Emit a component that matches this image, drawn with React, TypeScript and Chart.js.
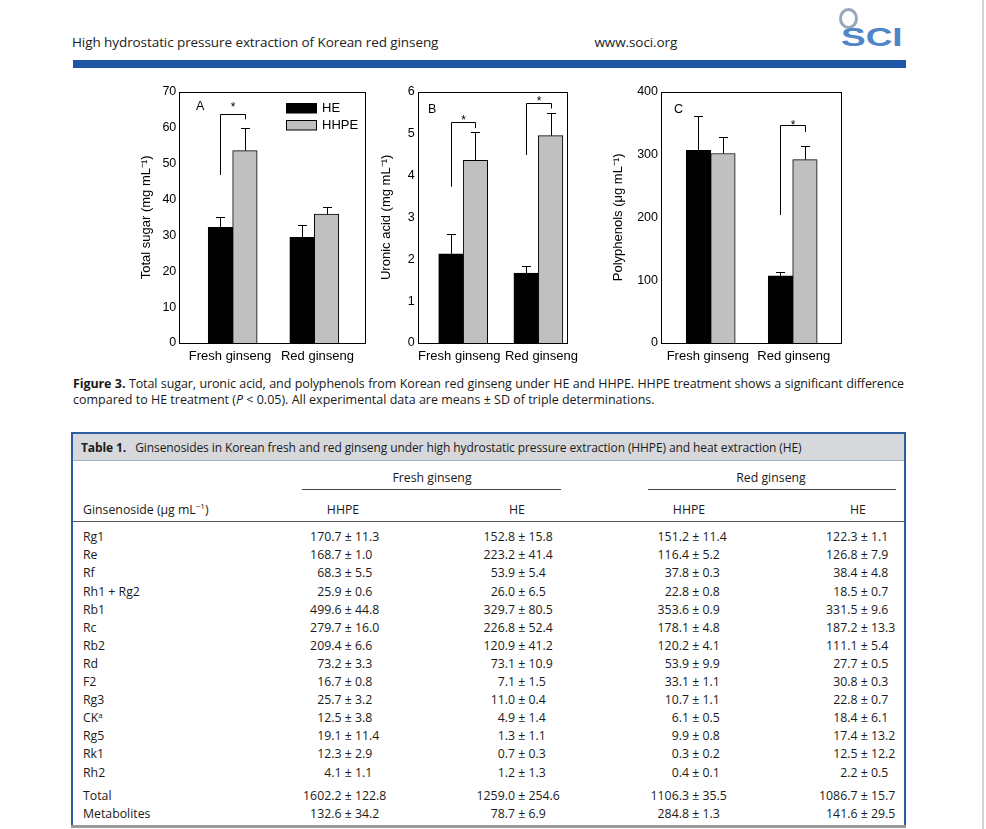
import React, { useEffect, useRef } from "react";
import { Chart, registerables } from "chart.js";

Chart.register(...registerables);

// ---------- Figure data ----------
const categories = ["Fresh ginseng", "Red ginseng"];
const seriesNames = ["HE", "HHPE"];

const sugarHE = [32.2, 29.4];
const sugarHESD = [2.8, 3.4];
const sugarHHPE = [53.6, 35.9];
const sugarHHPESD = [6.3, 1.9];

const uronicHE = [2.13, 1.67];
const uronicHESD = [0.47, 0.16];
const uronicHHPE = [4.36, 4.95];
const uronicHHPESD = [0.67, 0.55];

const polyHE = [306.8, 106.8];
const polyHESD = [54, 7];
const polyHHPE = [301.6, 292];
const polyHHPESD = [26, 22];

// significance brackets: category index, left leg bottom, top, right leg bottom, asterisk value
const sugarBrackets = [{ cat: 0, left: 46.8, top: 63.9, right: 62.3, star: 66.5 }];
const uronicBrackets = [
  { cat: 0, left: 3.73, top: 5.27, right: 5.13, star: 5.39 },
  { cat: 1, left: 4.49, top: 5.74, right: 5.6, star: 5.84 },
];
const polyBrackets = [{ cat: 1, left: 203.7, top: 346.5, right: 335.9, star: 351.7 }];

// ---------- Table data ----------
const ginsenosideNames = ["Rg1", "Re", "Rf", "Rh1 + Rg2", "Rb1", "Rc", "Rb2", "Rd", "F2", "Rg3", "CK", "Rg5", "Rk1", "Rh2"];
const ginsenosideNotes = ["", "", "", "", "", "", "", "", "", "", "a", "", "", ""];
const freshHHPEMean = [170.7, 168.7, 68.3, 25.9, 499.6, 279.7, 209.4, 73.2, 16.7, 25.7, 12.5, 19.1, 12.3, 4.1];
const freshHHPESD = [11.3, 1.0, 5.5, 0.6, 44.8, 16.0, 6.6, 3.3, 0.8, 3.2, 3.8, 11.4, 2.9, 1.1];
const freshHEMean = [152.8, 223.2, 53.9, 26.0, 329.7, 226.8, 120.9, 73.1, 7.1, 11.0, 4.9, 1.3, 0.7, 1.2];
const freshHESD = [15.8, 41.4, 5.4, 6.5, 80.5, 52.4, 41.2, 10.9, 1.5, 0.4, 1.4, 1.1, 0.3, 1.3];
const redHHPEMean = [151.2, 116.4, 37.8, 22.8, 353.6, 178.1, 120.2, 53.9, 33.1, 10.7, 6.1, 9.9, 0.3, 0.4];
const redHHPESD = [11.4, 5.2, 0.3, 0.8, 0.9, 4.8, 4.1, 9.9, 1.1, 1.1, 0.5, 0.8, 0.2, 0.1];
const redHEMean = [122.3, 126.8, 38.4, 18.5, 331.5, 187.2, 111.1, 27.7, 30.8, 22.8, 18.4, 17.4, 12.5, 2.2];
const redHESD = [1.1, 7.9, 4.8, 0.7, 9.6, 13.3, 5.4, 0.5, 0.3, 0.7, 6.1, 13.2, 12.2, 0.5];

const summaryNames = ["Total", "Metabolites"];
const summaryFreshHHPEMean = [1602.2, 132.6];
const summaryFreshHHPESD = [122.8, 34.2];
const summaryFreshHEMean = [1259.0, 78.7];
const summaryFreshHESD = [254.6, 6.9];
const summaryRedHHPEMean = [1106.3, 284.8];
const summaryRedHHPESD = [35.5, 1.3];
const summaryRedHEMean = [1086.7, 141.6];
const summaryRedHESD = [15.7, 29.5];

const columnHeads = ["HHPE", "HE", "HHPE", "HE"];
const groupHeads = ["Fresh ginseng", "Red ginseng"];

// ---------- Styling ----------
const chartFont = "'Liberation Sans', Arial, Helvetica, sans-serif";
const pageFont = "'Open Sans', 'Noto Sans', sans-serif";
const HE_COLOR = "#000000";
const HHPE_COLOR = "#c0c0c0";

const decorPlugin = {
  id: "panelDecor",
  afterDatasetsDraw(chart: any, _args: any, opts: any) {
    const { ctx, chartArea: a, scales } = chart;
    const y = scales.y;
    ctx.save();
    ctx.strokeStyle = "#000";
    ctx.fillStyle = "#000";
    ctx.lineWidth = 1;
    // error bars
    chart.data.datasets.forEach((ds: any, di: number) => {
      const meta = chart.getDatasetMeta(di);
      meta.data.forEach((bar: any, i: number) => {
        const v = ds.data[i].y;
        const sd = ds.errors[i];
        const x = Math.round(bar.x) + 0.5;
        const y0 = y.getPixelForValue(v);
        const y1 = Math.round(y.getPixelForValue(v + sd)) + 0.5;
        ctx.beginPath();
        ctx.moveTo(x, y0);
        ctx.lineTo(x, y1);
        ctx.moveTo(x - 4.5, y1);
        ctx.lineTo(x + 4.5, y1);
        ctx.stroke();
      });
    });
    // brackets
    (opts.brackets || []).forEach((b: any) => {
      const xl = Math.round(chart.getDatasetMeta(0).data[b.cat].x) + 0.5;
      const xr = Math.round(chart.getDatasetMeta(1).data[b.cat].x) + 0.5;
      const yl = y.getPixelForValue(b.left);
      const yt = Math.round(y.getPixelForValue(b.top)) + 0.5;
      const yr = y.getPixelForValue(b.right);
      ctx.beginPath();
      ctx.moveTo(xl, yl);
      ctx.lineTo(xl, yt);
      ctx.lineTo(xr, yt);
      ctx.lineTo(xr, yr);
      ctx.stroke();
      ctx.font = `12px ${chartFont}`;
      ctx.textAlign = "center";
      ctx.textBaseline = "alphabetic";
      ctx.fillText("*", (xl + xr) / 2, y.getPixelForValue(b.star) + 6.8);
    });
    // frame
    ctx.strokeRect(Math.round(a.left) + 0.5, Math.round(a.top) + 0.5, Math.round(a.right - a.left), Math.round(a.bottom - a.top));
    // panel letter
    ctx.font = `12.5px ${chartFont}`;
    ctx.textAlign = "left";
    ctx.textBaseline = "middle";
    ctx.fillText(opts.letter, a.left + opts.letterDx, a.top + opts.letterDy);
    // legend
    if (opts.legend) {
      chart.data.datasets.forEach((ds: any, k: number) => {
        const bx = Math.round(a.left + 107) + 0.5;
        const by = Math.round(a.top + 11.3 + k * 16.7) + 0.5;
        ctx.fillStyle = ds.backgroundColor;
        ctx.fillRect(bx, by, 30, 9.5);
        ctx.strokeStyle = "#000";
        ctx.strokeRect(bx, by, 30, 9.5);
        ctx.fillStyle = "#000";
        ctx.font = `13px ${chartFont}`;
        ctx.textBaseline = "middle";
        ctx.fillText(ds.label, bx + 35.5, by + 5.2);
      });
    }
    ctx.restore();
  },
};

type PanelCfg = {
  left: number; top: number; w: number; h: number;
  yAxisW: number; padTop: number; padRight: number; titlePad: number;
  xMin: number; xMax: number; labelAt: number[]; yMax: number; step: number;
  title: string; letter: string; letterDx: number; letterDy: number; legend: boolean;
  he: number[]; heSD: number[]; hhpe: number[]; hhpeSD: number[]; brackets: any[];
};

const panels: PanelCfg[] = [
  {
    left: 130, top: 80, w: 245, h: 290, yAxisW: 49.3, padTop: 11.7, padRight: 9.3, titlePad: 8.9,
    xMin: -0.654, xMax: 1.63, labelAt: [-0.033, 1.039], yMax: 70, step: 10, title: "Total sugar (mg mL⁻¹)",
    letter: "A", letterDx: 16.7, letterDy: 15, legend: true,
    he: sugarHE, heSD: sugarHESD, hhpe: sugarHHPE, hhpeSD: sugarHHPESD, brackets: sugarBrackets,
  },
  {
    left: 370, top: 80, w: 215, h: 290, yAxisW: 47.7, padTop: 11.7, padRight: 6.7, titlePad: 8.9,
    xMin: -0.605, xMax: 1.378, labelAt: [-0.052, 1.041], yMax: 6, step: 1, title: "Uronic acid (mg mL⁻¹)",
    letter: "B", letterDx: 10.3, letterDy: 18.3, legend: false,
    he: uronicHE, heSD: uronicHESD, hhpe: uronicHHPE, hhpeSD: uronicHHPESD, brackets: uronicBrackets,
  },
  {
    left: 600, top: 80, w: 250, h: 290, yAxisW: 61, padTop: 11.7, padRight: 9, titlePad: 10.5,
    xMin: -0.606, xMax: 1.589, labelAt: [-0.035, 1.013], yMax: 400, step: 100, title: "Polyphenols (μg mL⁻¹)",
    letter: "C", letterDx: 13, letterDy: 18.3, legend: false,
    he: polyHE, heSD: polyHESD, hhpe: polyHHPE, hhpeSD: polyHHPESD, brackets: polyBrackets,
  },
];

function Panel({ cfg }: { cfg: PanelCfg }) {
  const ref = useRef<HTMLCanvasElement>(null);
  useEffect(() => {
    const font = { family: chartFont, size: 13 };
    const tickFont = { family: chartFont, size: 12.5 };
    const chart = new Chart(ref.current as HTMLCanvasElement, {
      type: "bar",
      data: {
        datasets: [
          {
            label: seriesNames[0],
            data: categories.map((_, i) => ({ x: i, y: cfg.he[i] })),
            backgroundColor: HE_COLOR,
            borderColor: "#000",
            borderWidth: 1,
            barThickness: 24.5,
            errors: cfg.heSD,
          } as any,
          {
            label: seriesNames[1],
            data: categories.map((_, i) => ({ x: i, y: cfg.hhpe[i] })),
            backgroundColor: HHPE_COLOR,
            borderColor: "#000",
            borderWidth: 1,
            barThickness: 24.5,
            errors: cfg.hhpeSD,
          } as any,
        ],
      },
      options: {
        responsive: false,
        animation: false,
        layout: { padding: { top: cfg.padTop, right: cfg.padRight, left: 0, bottom: 0 } },
        plugins: {
          legend: { display: false },
          tooltip: { enabled: false },
          panelDecor: {
            brackets: cfg.brackets, letter: cfg.letter, letterDx: cfg.letterDx,
            letterDy: cfg.letterDy, legend: cfg.legend,
          },
        } as any,
        scales: {
          x: {
            type: "linear",
            offset: false,
            min: cfg.xMin,
            max: cfg.xMax,
            grid: { display: false, drawTicks: false, offset: false },
            border: { display: false },
            afterBuildTicks: (s: any) => {
              s.ticks = cfg.labelAt.map((v) => ({ value: v }));
            },
            afterFit: (s: any) => {
              s.height = 27;
            },
            ticks: {
              callback: (_v: any, idx: number) => categories[idx],
              padding: 5.9,
              font,
              color: "#000",
              maxRotation: 0,
              autoSkip: false,
            },
          },
          y: {
            min: 0,
            max: cfg.yMax,
            grid: { display: false, drawTicks: false },
            border: { display: false },
            afterFit: (s: any) => {
              s.width = cfg.yAxisW;
            },
            ticks: { stepSize: cfg.step, padding: 3, font: tickFont, color: "#000" },
            title: {
              display: true,
              text: cfg.title,
              font,
              color: "#000",
              padding: { top: cfg.titlePad, bottom: 0 },
            },
          },
        } as any,
      },
      plugins: [decorPlugin],
    });
    return () => chart.destroy();
  }, []);
  return (
    <canvas
      ref={ref}
      width={cfg.w}
      height={cfg.h}
      style={{ position: "absolute", left: cfg.left, top: cfg.top, width: cfg.w, height: cfg.h }}
    />
  );
}

// ---------- HTML helpers ----------
function Txt({ x, y, children, size = 12, align = "left", style = {} }: any) {
  const lh = Math.round(size * 1.4);
  const base: any = {
    position: "absolute",
    top: y - lh / 2,
    height: lh,
    lineHeight: `${lh}px`,
    fontSize: size,
    whiteSpace: "pre",
    fontFamily: pageFont,
    color: "#1a1a1a",
    ...style,
  };
  if (align === "left") return <div style={{ ...base, left: x }}>{children}</div>;
  if (align === "center") return <div style={{ ...base, left: x - 200, width: 400, textAlign: "center" }}>{children}</div>;
  return <div style={{ ...base, left: x - 400, width: 400, textAlign: "right" }}>{children}</div>;
}

const pmCols = [348, 521.5, 695.5, 864];
const TABLE_SIZE = 12.3;

function ValueCell({ pm, y, mean, sd }: { pm: number; y: number; mean: number; sd: number }) {
  return (
    <>
      <Txt x={pm + 3.7} y={y} size={TABLE_SIZE} align="right">{`${mean.toFixed(1)} ±`}</Txt>
      <Txt x={pm + 3.7} y={y} size={TABLE_SIZE}>{` ${sd.toFixed(1)}`}</Txt>
    </>
  );
}

function Row({ y, name, note, vals }: { y: number; name: string; note?: string; vals: [number, number][] }) {
  return (
    <>
      <Txt x={83} y={y} size={TABLE_SIZE}>
        {name}
        {note ? <sup style={{ fontSize: 8, verticalAlign: "4px", lineHeight: 0 }}>{note}</sup> : null}
      </Txt>
      {vals.map((v, k) => (
        <ValueCell key={k} pm={pmCols[k]} y={y} mean={v[0]} sd={v[1]} />
      ))}
    </>
  );
}

export default function App() {
  const rowY0 = 536.7;
  const rowStep = 18.1;
  return (
    <div style={{ position: "absolute", left: 0, top: 0, width: 986, height: 829, overflow: "hidden", background: "#fff" }}>
      {/* page header */}
      <Txt x={72} y={42} size={13.5} style={{ letterSpacing: "-0.08px", color: "#222" }}>
        High hydrostatic pressure extraction of Korean red ginseng
      </Txt>
      <Txt x={594.5} y={42} size={13.5} style={{ letterSpacing: "-0.1px", color: "#222" }}>
        www.soci.org
      </Txt>
      <div style={{ position: "absolute", left: 839, top: 8, width: 13, height: 15, borderRadius: "50%", border: "3px solid #9aa7b8" }} />
      <div
        style={{
          position: "absolute", left: 841, top: 23, height: 28, lineHeight: "28px",
          fontFamily: chartFont, fontWeight: 700, fontSize: 26, color: "#4f86c9",
          transform: "scaleX(1.42)", transformOrigin: "left center",
        }}
      >
        SCI
      </div>
      <div style={{ position: "absolute", left: 73, top: 60, width: 833, height: 8, background: "#1d56a5" }} />
      <div style={{ position: "absolute", left: 982, top: 0, width: 2, height: 829, background: "#d4d4d4" }} />

      {/* figure panels */}
      {panels.map((p, i) => (
        <Panel key={i} cfg={p} />
      ))}

      {/* caption */}
      <div
        style={{
          position: "absolute", left: 73, top: 376, width: 831, fontFamily: pageFont, fontSize: 12.5,
          lineHeight: "16px", color: "#1a1a1a", textAlign: "justify", textAlignLast: "justify",
          letterSpacing: "-0.12px", wordSpacing: "-1px",
        }}
      >
        <b>Figure 3.</b> Total sugar, uronic acid, and polyphenols from Korean red ginseng under HE and HHPE. HHPE treatment shows a significant difference
      </div>
      <div
        style={{
          position: "absolute", left: 73, top: 392, fontFamily: pageFont, fontSize: 12.5, lineHeight: "16px",
          color: "#1a1a1a", whiteSpace: "pre",
        }}
      >
        compared to HE treatment (<i>P</i> {"<"} 0.05). All experimental data are means ± SD of triple determinations.
      </div>

      {/* table frame */}
      <div style={{ position: "absolute", left: 71, top: 432, width: 835, height: 394, borderLeft: "2px solid #2c5d9c", borderRight: "2px solid #2c5d9c", borderTop: "2px solid #2c5d9c", boxSizing: "border-box" }} />
      <div style={{ position: "absolute", left: 73, top: 434, width: 831, height: 26, background: "#d6d8db", borderBottom: "1px solid #9fb0c6" }} />
      <div style={{ position: "absolute", left: 71, top: 825, width: 835, height: 3, background: "#9a9a9a" }} />
      <Txt x={81} y={447} size={12} style={{ letterSpacing: "-0.1px" }}>
        <b>Table 1.</b>
        {"   Ginsenosides in Korean fresh and red ginseng under high hydrostatic pressure extraction (HHPE) and heat extraction (HE)"}
      </Txt>

      {/* column headers */}
      <Txt x={432} y={477} size={TABLE_SIZE} align="center">{groupHeads[0]}</Txt>
      <Txt x={771} y={477} size={TABLE_SIZE} align="center">{groupHeads[1]}</Txt>
      <div style={{ position: "absolute", left: 302, top: 488.5, width: 259, height: 1, background: "#444" }} />
      <div style={{ position: "absolute", left: 648, top: 488.5, width: 248, height: 1, background: "#444" }} />
      <Txt x={83} y={509} size={TABLE_SIZE}>
        Ginsenoside (μg mL<sup style={{ fontSize: 8, verticalAlign: "5px", lineHeight: 0 }}>−1</sup>)
      </Txt>
      {columnHeads.map((h, k) => (
        <Txt key={k} x={[343, 517, 689, 858][k]} y={509} size={TABLE_SIZE} align="center">{h}</Txt>
      ))}
      <div style={{ position: "absolute", left: 73, top: 521, width: 831, height: 1, background: "#555" }} />

      {/* body rows */}
      {ginsenosideNames.map((n, i) => (
        <Row
          key={n}
          y={rowY0 + i * rowStep}
          name={n}
          note={ginsenosideNotes[i]}
          vals={[
            [freshHHPEMean[i], freshHHPESD[i]],
            [freshHEMean[i], freshHESD[i]],
            [redHHPEMean[i], redHHPESD[i]],
            [redHEMean[i], redHESD[i]],
          ]}
        />
      ))}
      {summaryNames.map((n, i) => (
        <Row
          key={n}
          y={795.7 + i * 18.2}
          name={n}
          vals={[
            [summaryFreshHHPEMean[i], summaryFreshHHPESD[i]],
            [summaryFreshHEMean[i], summaryFreshHESD[i]],
            [summaryRedHHPEMean[i], summaryRedHHPESD[i]],
            [summaryRedHEMean[i], summaryRedHESD[i]],
          ]}
        />
      ))}
    </div>
  );
}
